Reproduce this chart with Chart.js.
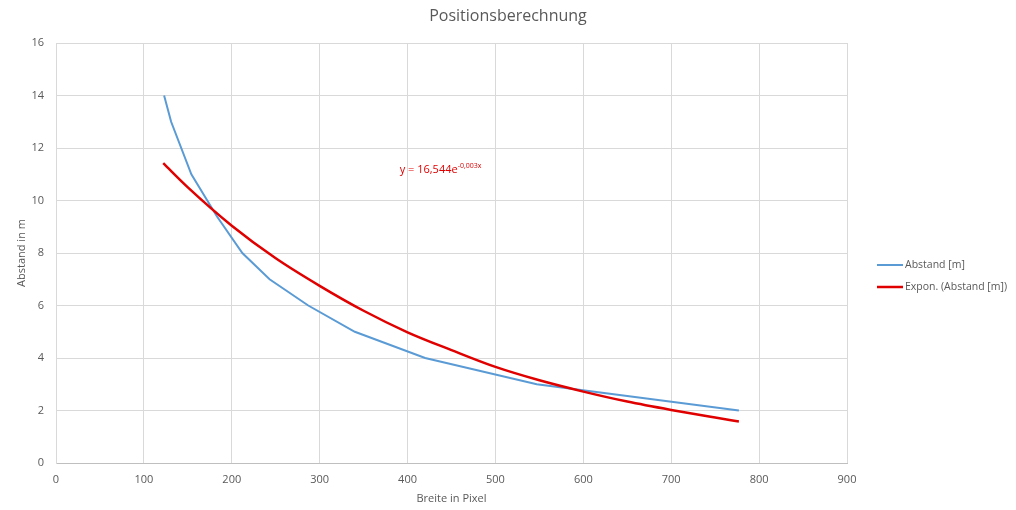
<!DOCTYPE html>
<html>
<head>
<meta charset="utf-8">
<script src="https://cdn.jsdelivr.net/npm/chart.js@4/dist/chart.umd.min.js"></script>
<style>
  html, body { margin: 0; padding: 0; background: #fff; }
  #wrap { width: 1016px; height: 510px; }
</style>
</head>
<body>
<div id="wrap"><canvas id="myChart" width="1016" height="510"></canvas></div>
<script>
// measured series (Breite in Pixel -> Abstand in m)
const breite = [123, 131, 154, 183, 212, 243, 287, 340, 420, 547, 777];
const abstand = [14, 13, 11, 9.4, 8, 7, 6, 5, 4, 3, 2];

// exponential trendline
const trendX = [122, 150, 200, 250, 300, 350, 400, 450, 500, 550, 600, 650, 700, 750, 777];
const trendY = [11.42, 10.5, 9.04, 7.8, 6.75, 5.8, 4.98, 4.3, 3.66, 3.15, 2.72, 2.34, 2.02, 1.73, 1.58];

const xTicks = [0, 100, 200, 300, 400, 500, 600, 700, 800, 900];
const yTicks = [0, 2, 4, 6, 8, 10, 12, 14, 16];

const equation = { text: 'y = 16,544e', sup: '-0,003x', x: 391, y: 11.2 };

const FONT = "'Open Sans', sans-serif";
const GREY = '#595959';

function toPoints(xs, ys) {
    return xs.map((x, i) => ({ x: x, y: ys[i] }));
}

// legend drawn at the right like the spreadsheet one
const sideLegend = {
    id: 'sideLegend',
    afterDraw(chart) {
        const ctx = chart.ctx;
        ctx.save();
        ctx.font = '10.5px ' + FONT;
        ctx.textBaseline = 'middle';
        chart.data.datasets.forEach((ds, i) => {
            const y = 265 + i * 22;
            ctx.strokeStyle = ds.borderColor;
            ctx.lineWidth = ds.borderWidth;
            ctx.beginPath();
            ctx.moveTo(877, y);
            ctx.lineTo(903, y);
            ctx.stroke();
            ctx.fillStyle = GREY;
            ctx.fillText(ds.label, 905, y);
        });
        ctx.restore();
    }
};

// trendline equation label
const equationLabel = {
    id: 'equationLabel',
    afterDraw(chart) {
        const ctx = chart.ctx;
        const px = chart.scales.x.getPixelForValue(equation.x);
        const py = chart.scales.y.getPixelForValue(equation.y);
        ctx.save();
        ctx.fillStyle = '#e00000';
        ctx.textBaseline = 'alphabetic';
        ctx.font = '11px ' + FONT;
        ctx.fillText(equation.text, px, py + 4);
        const w = ctx.measureText(equation.text).width;
        ctx.font = '7px ' + FONT;
        ctx.fillText(equation.sup, px + w, py - 1);
        ctx.restore();
    }
};

function initChart() {
    const ctx = document.getElementById('myChart').getContext('2d');
    return new Chart(ctx, {
        type: 'line',
        data: {
            datasets: [{
                label: 'Abstand [m]',
                data: toPoints(breite, abstand),
                borderColor: '#5b9bd5',
                borderWidth: 2,
                pointRadius: 0,
                tension: 0,
                order: 1
            }, {
                label: 'Expon. (Abstand [m])',
                data: toPoints(trendX, trendY),
                borderColor: '#e00000',
                borderWidth: 2.5,
                pointRadius: 0,
                cubicInterpolationMode: 'monotone',
                order: 0
            }]
        },
        options: {
            responsive: false,
            animation: false,
            layout: { padding: 0 },
            plugins: {
                legend: { display: false },
                tooltip: { enabled: false },
                title: {
                    display: true,
                    text: 'Positionsberechnung',
                    color: GREY,
                    font: { family: FONT, size: 16, weight: 'normal' },
                    padding: { top: 6.5, bottom: 17.3 }
                }
            },
            scales: {
                x: {
                    type: 'linear',
                    min: 0,
                    max: 900,
                    afterBuildTicks: (axis) => { axis.ticks = xTicks.map(v => ({ value: v })); },
                    afterFit: (axis) => { axis.height = 47; },
                    grid: { color: '#d9d9d9', drawTicks: false },
                    border: { color: '#bfbfbf' },
                    ticks: { color: GREY, font: { family: FONT, size: 11 }, padding: 10 },
                    title: {
                        display: true,
                        text: 'Breite in Pixel',
                        color: GREY,
                        font: { family: FONT, size: 11 },
                        padding: { top: 6, bottom: 5 }
                    }
                },
                y: {
                    min: 0,
                    max: 16,
                    afterBuildTicks: (axis) => { axis.ticks = yTicks.map(v => ({ value: v })); },
                    afterFit: (axis) => { axis.width = 56; },
                    grid: { color: '#d9d9d9', drawTicks: false },
                    border: { color: '#d9d9d9' },
                    ticks: { color: GREY, font: { family: FONT, size: 11 }, padding: 12 },
                    title: {
                        display: true,
                        text: 'Abstand in m',
                        color: GREY,
                        font: { family: FONT, size: 11 },
                        padding: { top: 15, bottom: 0 }
                    }
                },
                // empty right-hand strip that leaves room for the legend
                legendSpace: {
                    position: 'right',
                    min: 0,
                    max: 1,
                    afterFit: (axis) => { axis.width = 169; },
                    grid: { display: false },
                    border: { display: false },
                    ticks: { display: false }
                }
            }
        },
        plugins: [sideLegend, equationLabel]
    });
}

initChart();
</script>
</body>
</html>
